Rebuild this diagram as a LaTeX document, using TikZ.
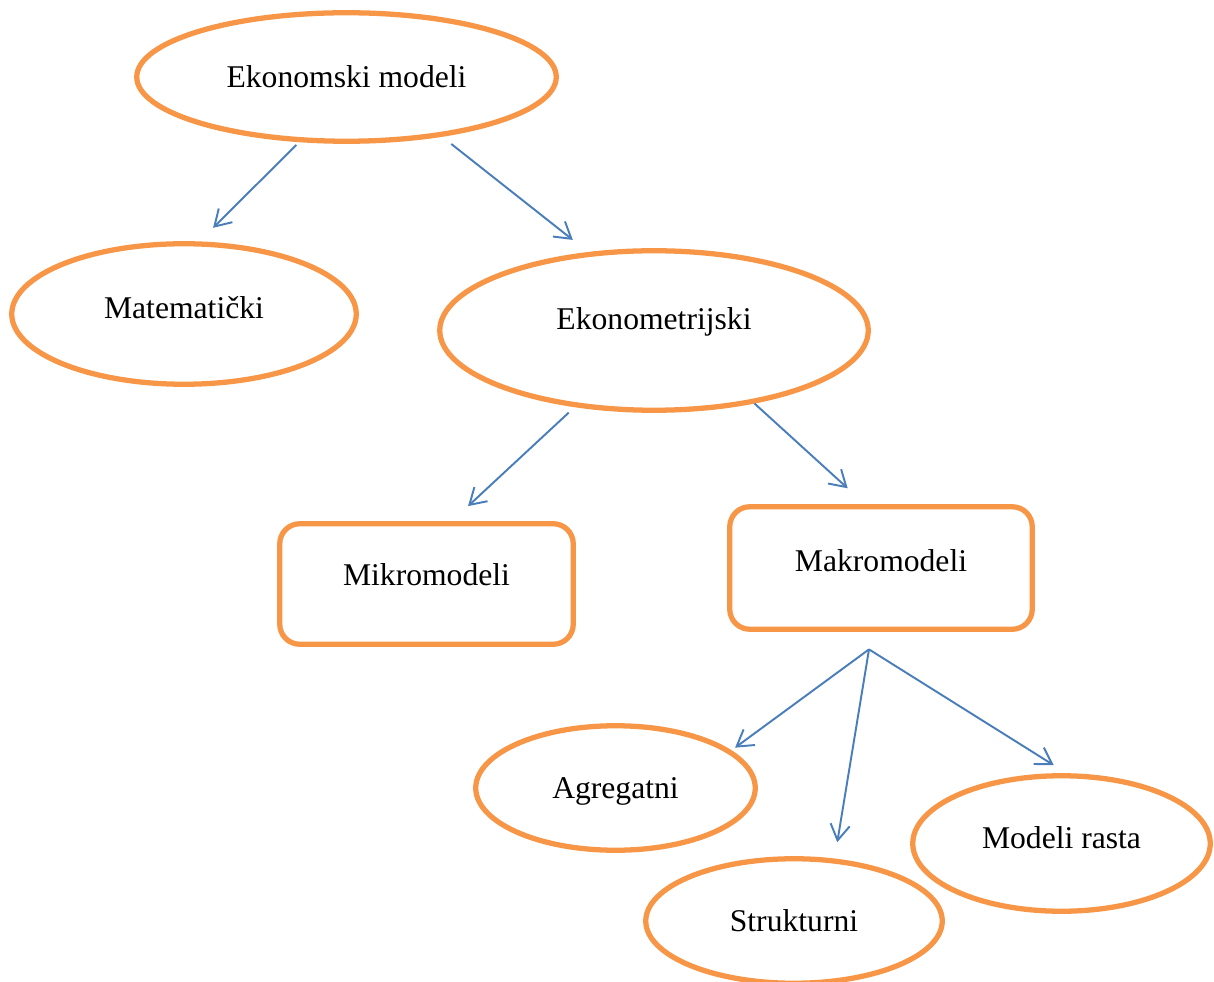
\documentclass[tikz,border=0pt]{standalone}
\usepackage{fontspec}
\setmainfont{Liberation Serif}
\usepackage{tikz}
\usetikzlibrary{arrows.meta,shapes.geometric,calc}
\definecolor{tangerine}{HTML}{F79646}
\definecolor{steel}{HTML}{4A7EBB}
\tikzset{
  ovalbox/.style={
    ellipse, draw=tangerine, line width=3pt,
    inner sep=0pt, text depth=0pt,
    font=\fontsize{18}{22}\selectfont
  },
  roundbox/.style={
    rectangle, rounded corners=0.4cm, draw=tangerine, line width=3pt,
    inner sep=0pt, text depth=0pt,
    font=\fontsize{18}{22}\selectfont
  },
  lift/.style={text depth=#1},
  linkarrow/.style={
    -{Straight Barb[length=9pt,width=11pt]}, line width=1.1pt, color=steel
  },
}
\begin{document}
\begin{tikzpicture}

\useasboundingbox (0,0) rectangle (24.28,-19.64);

% ── tree of models ──
\node[ovalbox, minimum width=8.39cm, minimum height=2.57cm] (ekon) at (6.93,-1.54) {Ekonomski modeli};
\node[ovalbox, lift=0.28cm, minimum width=6.89cm, minimum height=2.81cm] (matem) at (3.68,-6.28) {Matematički};
\node[ovalbox, lift=0.46cm, minimum width=8.57cm, minimum height=3.19cm] (ekonom) at (13.08,-6.61) {Ekonometrijski};

\node[roundbox, lift=0.36cm, minimum width=5.87cm, minimum height=2.41cm] (mikro) at (8.53,-11.68) {Mikromodeli};
\node[roundbox, lift=0.28cm, minimum width=6.05cm, minimum height=2.45cm] (makro) at (17.62,-11.36) {Makromodeli};

\node[ovalbox, minimum width=5.59cm, minimum height=2.49cm] (agreg) at (12.31,-15.76) {Agregatni};
\node[ovalbox, minimum width=5.93cm, minimum height=2.49cm] (strukt) at (15.88,-18.42) {Strukturni};
\node[ovalbox, lift=0.22cm, minimum width=5.95cm, minimum height=2.71cm] (rast) at (21.23,-16.87) {Modeli rasta};

\draw[linkarrow, shorten <=0.08cm, shorten >=0.385cm] (ekon.-126.15) -- (matem.78.3);
\draw[linkarrow, shorten <=0.234cm, shorten >=0.39cm] (ekon.-32.5) -- (ekonom.130.9);
\draw[linkarrow, shorten <=0.16cm, shorten >=0.44cm] (ekonom.-136.1) -- (mikro.68.7);
\draw[linkarrow, shorten >=0.47cm] (ekonom.-36) -- (makro.104.1);

\coordinate (split) at ($(makro.south)+(-0.24,-0.35)$);
\draw[linkarrow, shorten >=0.09cm] (split) -- (agreg.18.7);
\draw[linkarrow, shorten >=0.33cm] (split) -- (strukt.57.2);
\draw[linkarrow, shorten >=0.3cm] (split) -- (rast.86.3);

\end{tikzpicture}
\end{document}
